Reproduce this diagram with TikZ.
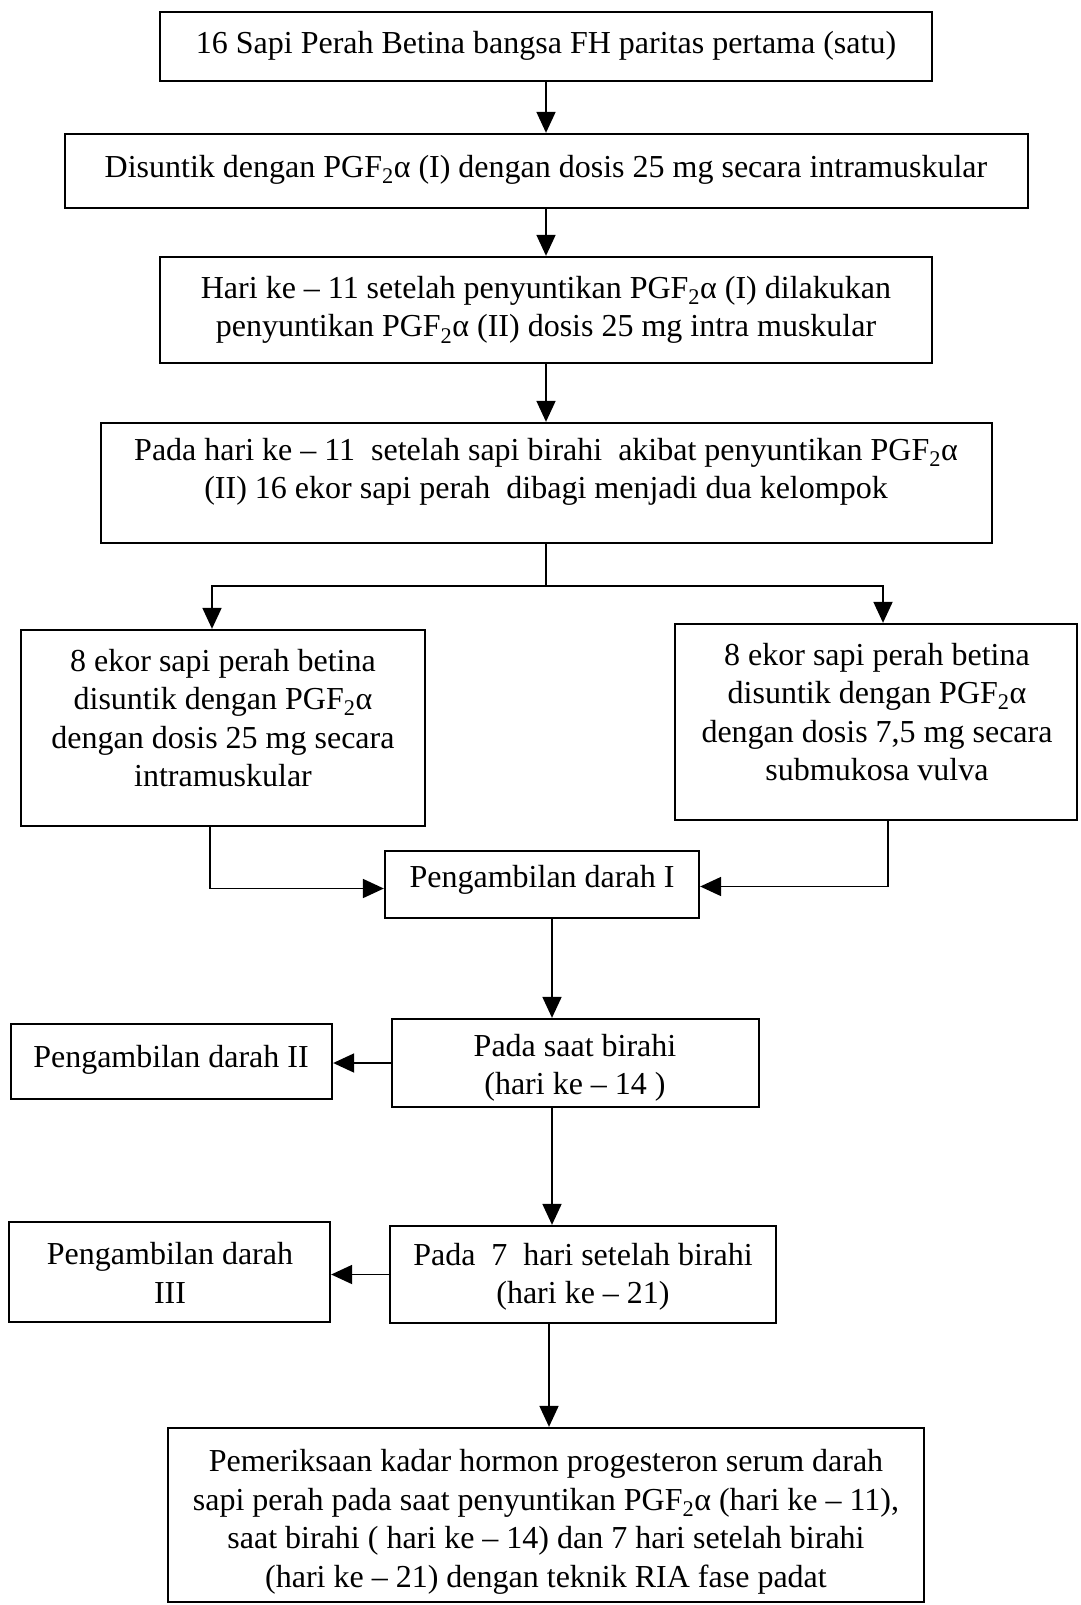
\documentclass[tikz,border=0pt]{standalone}
\usepackage{fontspec}
\setmainfont{Liberation Serif}
\usetikzlibrary{arrows.meta,calc,fit}
\newcommand{\pgfa}{PGF\textsubscript{2}α}
\begin{document}
\begin{tikzpicture}[x=1pt,y=-1pt,
  box/.style={draw, line width=2.3pt, inner sep=0pt, rectangle},
  txt/.style={align=center, font=\fontsize{32}{38.5}\selectfont, inner sep=0pt},
  arr/.style={line width=1.8pt, -{Triangle[length=21pt,width=19pt]}},
  ln/.style={line width=1.8pt}]
\useasboundingbox (0,0) rectangle (1080,1605);

% boxes
\node[box, fit={(160,12) (932,81)}] (b1) {};
\node[box, fit={(65,134) (1028,208)}] (b2) {};
\node[box, fit={(160,257) (932,363)}] (b3) {};
\node[box, fit={(101,423) (992,543)}] (b4) {};
\node[box, fit={(21,630) (425,826)}] (b5) {};
\node[box, fit={(675,624) (1077,820)}] (b6) {};
\node[box, fit={(385,851) (699,918)}] (b7) {};
\node[box, fit={(392,1019) (759,1107)}] (b8) {};
\node[box, fit={(11,1024) (332,1099)}] (b9) {};
\node[box, fit={(390,1226) (776,1323)}] (b10) {};
\node[box, fit={(9,1222) (330,1322)}] (b11) {};
\node[box, fit={(168,1428) (924,1602)}] (b12) {};

% texts
\node[txt] (t1) at (546,46) {16 Sapi Perah Betina bangsa FH paritas pertama (satu)};
\node[txt] (t2) at (546,170) {Disuntik dengan \pgfa{} (I) dengan dosis 25 mg secara intramuskular};
\node[txt] (t3) at (546,310) {Hari ke – 11 setelah penyuntikan \pgfa{} (I) dilakukan\\penyuntikan \pgfa{} (II) dosis 25 mg intra muskular};
\node[txt] (t4) at (546,472) {Pada hari ke – 11~ setelah sapi birahi~ akibat penyuntikan \pgfa\\(II) 16 ekor sapi perah~ dibagi menjadi dua kelompok};
\node[txt] (t5) at (223,718) {8 ekor sapi perah betina\\disuntik dengan \pgfa\\dengan dosis 25 mg secara\\intramuskular};
\node[txt] (t6) at (877,712) {8 ekor sapi perah betina\\disuntik dengan \pgfa\\dengan dosis 7,5 mg secara\\submukosa vulva};
\node[txt] (t7) at (542,880) {Pengambilan darah I};
\node[txt] (t8) at (575,1068) {Pada saat birahi\\(hari ke – 14 )};
\node[txt] (t9) at (171,1060) {Pengambilan darah II};
\node[txt] (t10) at (583,1277) {Pada~ 7~ hari setelah birahi\\(hari ke – 21)};
\node[txt] (t11) at (170,1273) {Pengambilan darah\\III};
\node[txt] (t12) at (546,1522) {Pemeriksaan kadar hormon progesteron serum darah\\sapi perah pada saat penyuntikan \pgfa{} (hari ke – 11),\\saat birahi ( hari ke – 14) dan 7 hari setelah birahi\\(hari ke – 21) dengan teknik RIA fase padat};

% connectors
\coordinate (c0) at (546,0);
\coordinate (split) at (546,586);
\coordinate (sl) at (212,586);
\coordinate (sr) at (883,586);
\coordinate (c78) at (552,0);
\coordinate (c1012) at (549,0);

\draw[arr] (b1.south -| c0) -- (b2.north -| c0);
\draw[arr] (b2.south -| c0) -- (b3.north -| c0);
\draw[arr] (b3.south -| c0) -- (b4.north -| c0);
\draw[ln] (b4.south -| c0) -- (split);
\draw[arr] (split) -- (sl) -- (sl |- b5.north);
\draw[arr] (split) -- (sr) -- (sr |- b6.north);
\draw[arr] ([xshift=-13pt]b5.south) |- ([yshift=-4pt]b7.west);
\draw[arr] ([xshift=12pt]b6.south) |- ([yshift=-2pt]b7.east);
\draw[arr] (b7.south -| c78) -- (b8.north -| c78);
\draw[arr] (b8.south -| c78) -- (b10.north -| c78);
\draw[arr] (b8.west) -- (b9.east |- b8.west);
\draw[arr] (b10.west) -- (b11.east |- b10.west);
\draw[arr] (b10.south -| c1012) -- (b12.north -| c1012);
\end{tikzpicture}
\end{document}
